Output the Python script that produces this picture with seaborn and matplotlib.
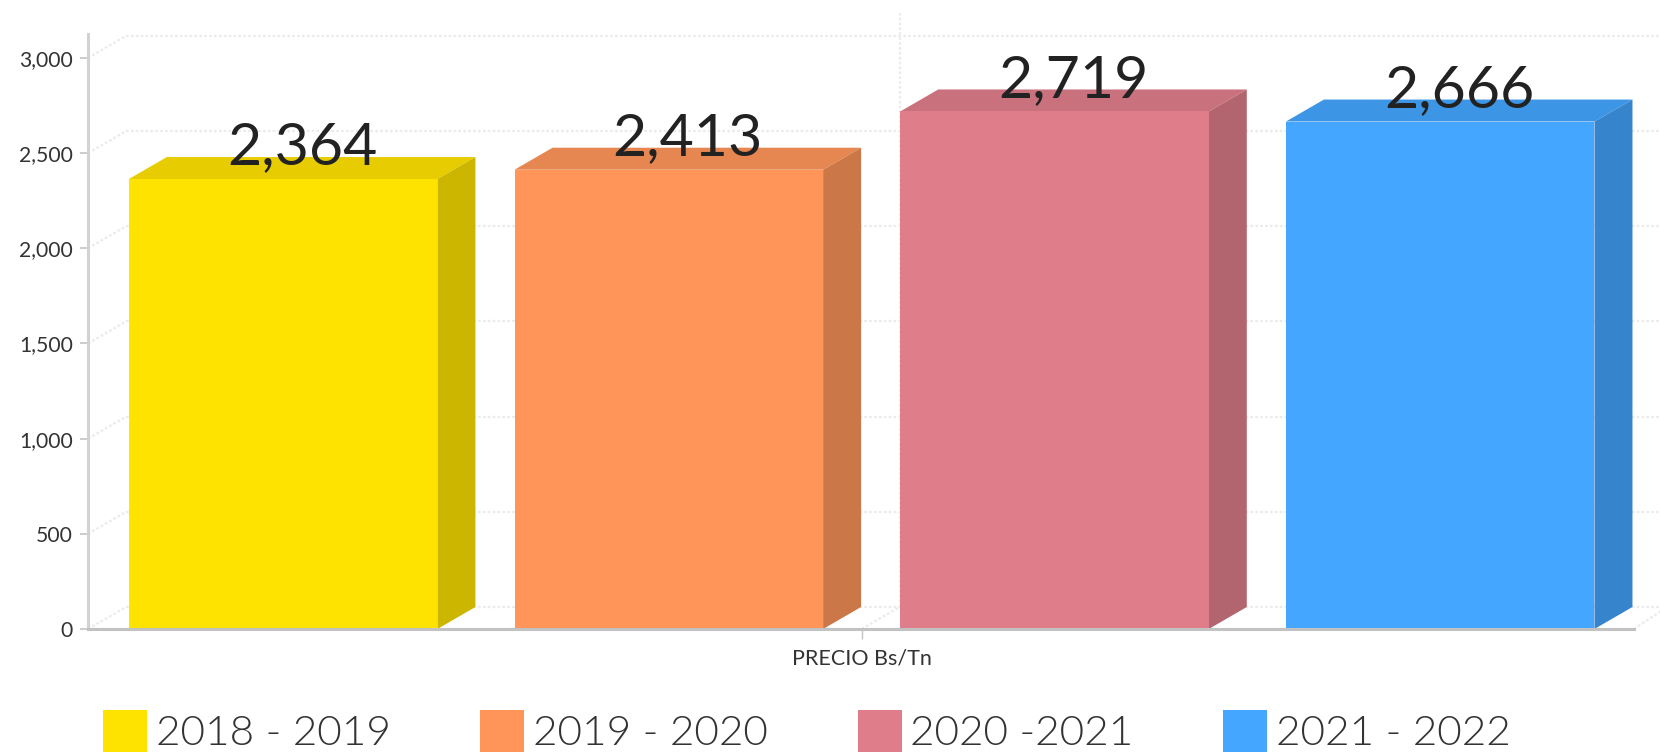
import matplotlib
matplotlib.use("Agg")
import matplotlib.pyplot as plt
from matplotlib.patches import Patch, Polygon
import matplotlib.colors as mcolors
import pandas as pd
import seaborn as sns

periods = ["2018 - 2019", "2019 - 2020", "2020 -2021", "2021 - 2022"]
prices = [2364, 2413, 2719, 2666]
colors = ["#FFE300", "#FF9559", "#DF7E8A", "#44A6FF"]
category = "PRECIO Bs/Tn"
y_ticks = [0, 500, 1000, 1500, 2000, 2500, 3000]

W, H = 1660, 752
DEPTH_X, DEPTH_Y = 38, 22  # profundidad 3D en pixeles


def shade(color, factor):
    r, g, b = mcolors.to_rgb(color)
    return (r * factor, g * factor, b * factor)


df = pd.DataFrame({"cat": [category] * len(periods), "period": periods, "price": prices})

sns.set_theme(style="white")
plt.rcParams["font.family"] = ["Lato", "DejaVu Sans"]

fig = plt.figure(figsize=(W / 100, H / 100), dpi=100)
ax = fig.add_axes([88 / W, (H - 629) / H, (1634 - 88) / W, (629 - 34) / H])

sns.barplot(
    data=df, x="cat", y="price", hue="period", hue_order=periods,
    palette=dict(zip(periods, colors)), saturation=1, gap=0.2, width=0.8,
    legend=False, zorder=3, linewidth=0, edgecolor="none", ax=ax,
)
ax.set_xlim(-0.4012, 0.4005)
ax.set_ylim(0, 3126)

# escala pixel -> datos
dx = DEPTH_X * (ax.get_xlim()[1] - ax.get_xlim()[0]) / (1634 - 88)
dy = DEPTH_Y * ax.get_ylim()[1] / (629 - 34)

# rejilla del fondo
grid_kw = dict(color="#ebebeb", lw=1.6, ls=(0, (1.2, 1)), zorder=0.5, clip_on=False)
x_left, x_right = ax.get_xlim()
x_far = x_left + (W - 88) / (1634 - 88) * (x_right - x_left)
for t in y_ticks:
    ax.plot([x_left + dx, x_far], [t + dy, t + dy], **grid_kw)
    ax.plot([x_left, x_left + dx], [t, t + dy], **grid_kw)
ax.plot([dx, dx], [dy, 3126 + 0.95 * dy], **grid_kw)
ax.plot([0, dx], [0, dy], **grid_kw)
ax.plot([x_right, x_right + dx * 0.7], [0, dy * 0.8], **grid_kw)

# caras superior y lateral de cada barra
for container, color, value in zip(ax.containers, colors, prices):
    bar = container[0]
    x0, x1, top = bar.get_x(), bar.get_x() + bar.get_width(), bar.get_height()
    ax.add_patch(Polygon([(x0, top), (x1, top), (x1 + dx, top + dy), (x0 + dx, top + dy)],
                         facecolor=shade(color, 0.9), edgecolor="none", zorder=2))
    ax.add_patch(Polygon([(x1, 0), (x1 + dx, dy), (x1 + dx, top + dy), (x1, top)],
                         facecolor=shade(color, 0.8), edgecolor="none", zorder=2))
    ax.annotate(f"{value:,}", xy=((x0 + x1) / 2 + dx / 2, top), xytext=(0, 31 * 0.72),
                textcoords="offset points", ha="center", va="center",
                fontsize=42.5, color="#222222", zorder=5, annotation_clip=False)

sns.despine(ax=ax, top=True, right=True)
ax.spines["left"].set_color("#d2d2d2")
ax.spines["left"].set_linewidth(2.2)
ax.spines["bottom"].set_color("#c2c2c2")
ax.spines["bottom"].set_linewidth(2.2)
ax.spines["left"].set_zorder(4)
ax.spines["bottom"].set_zorder(4)

ax.set_yticks(y_ticks)
ax.set_yticklabels([f"{t:,}" for t in y_ticks])
ax.tick_params(axis="y", left=True, length=6, width=1.2, color="#c4c4c4",
               labelsize=15.2, labelcolor="#333333", pad=5)
ax.tick_params(axis="x", bottom=True, length=7, width=1, color="#c4c4c4",
               labelsize=15.5, labelcolor="#333333", pad=7)
ax.set_xlabel("")
ax.set_ylabel("")

handles = [Patch(facecolor=c, edgecolor="none", label=p) for c, p in zip(colors, periods)]
fig.legend(
    handles=handles, loc="lower left", bbox_to_anchor=(103 / W, 0), ncol=4,
    frameon=False, borderpad=0, borderaxespad=0, handlelength=1.04, handleheight=1.15,
    handletextpad=0.2, columnspacing=2.12,
    prop={"family": "Lato", "weight": 300, "size": 30.5}, labelcolor="#333333",
)

fig.savefig("out.png", dpi=100)
